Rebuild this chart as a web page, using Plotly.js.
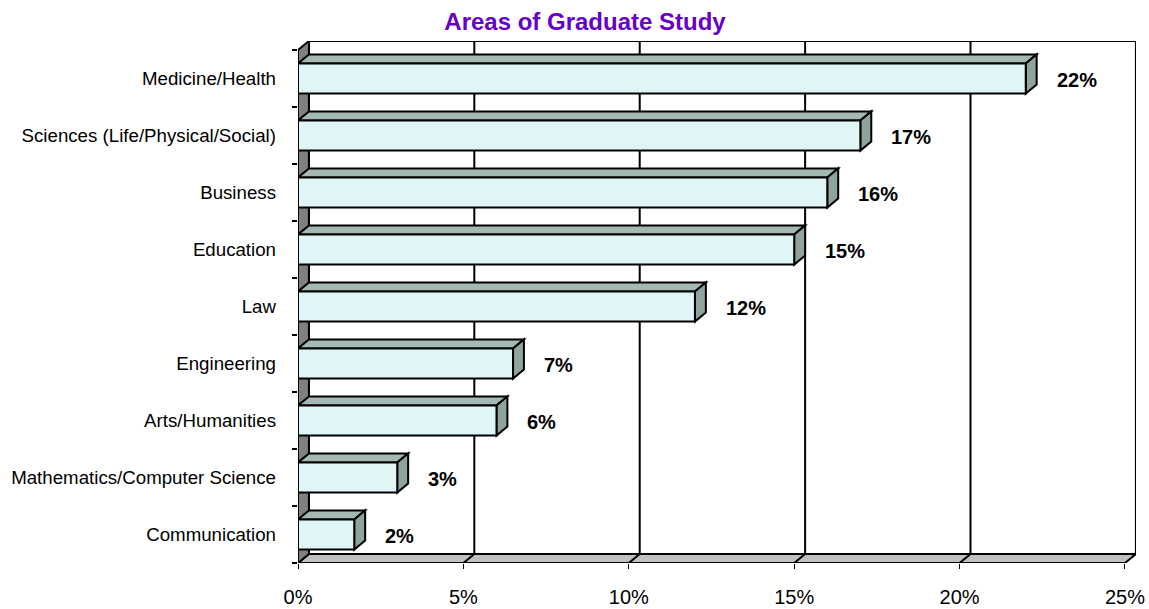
<!DOCTYPE html>
<html>
<head>
<meta charset="utf-8">
<script src="https://cdn.plot.ly/plotly-3.0.1.min.js"></script>
<style>html,body{margin:0;padding:0;background:#fff;}#chart{width:1149px;height:609px;}</style>
</head>
<body>
<div id="chart"></div>
<script>
// ---- data ----
const categories = ["Medicine/Health", "Sciences (Life/Physical/Social)", "Business", "Education", "Law",
  "Engineering", "Arts/Humanities", "Mathematics/Computer Science", "Communication"];
const values = [22, 17, 16, 15, 12, 6.5, 6, 3, 1.7];
const valueLabels = ["22%", "17%", "16%", "15%", "12%", "7%", "6%", "3%", "2%"];
const xTickVals = [0, 5, 10, 15, 20, 25];
const xTickText = ["0%", "5%", "10%", "15%", "20%", "25%"];

// ---- geometry / style ----
const DX = 0.33;     // depth offset in x units
const DY = 0.158;    // depth offset in category units
const BW = 0.53;     // bar width (category units)
const XMAX = 25;
const order = categories.slice().reverse();       // bottom-to-top
const idx = c => order.indexOf(c);
const N = categories.length;
const yBot = -0.5, yTop = N - 0.5;
const FONT = 'Liberation Sans, Arial, sans-serif';

const shapes = [];
function poly(pts, fill, lw) {
  const d = 'M' + pts.map(p => p[0] + ',' + p[1]).join('L') + 'Z';
  shapes.push({type: 'path', path: d, xref: 'x', yref: 'y', fillcolor: fill,
    line: {color: '#000', width: lw === undefined ? 2 : lw}, layer: 'below'});
}
function seg(x0, y0, x1, y1) {
  shapes.push({type: 'line', xref: 'x', yref: 'y', x0, y0, x1, y1,
    line: {color: '#000', width: 2}, layer: 'below'});
}
// back wall
poly([[DX, yBot + DY], [XMAX + DX, yBot + DY], [XMAX + DX, yTop + DY], [DX, yTop + DY]], '#ffffff');
// floor
poly([[0, yBot], [XMAX, yBot], [XMAX + DX, yBot + DY], [DX, yBot + DY]], '#c0c0c0');
// left wall
poly([[0, yBot], [DX, yBot + DY], [DX, yTop + DY], [0, yTop]], '#808080');
// gridlines on back wall and floor
xTickVals.slice(1, -1).forEach(v => {
  seg(v + DX, yBot + DY, v + DX, yTop + DY);
  seg(v, yBot, v + DX, yBot + DY);
});
// bar depth faces
categories.forEach((c, i) => {
  const y = idx(c), v = values[i];
  const t = y + BW / 2, b = y - BW / 2;
  poly([[0, t], [v, t], [v + DX, t + DY], [DX, t + DY]], '#a4b8b4');
  poly([[v, b], [v, t], [v + DX, t + DY], [v + DX, b + DY]], '#8fa39f');
});

const annotations = categories.map((c, i) => ({
  x: values[i], y: c, xref: 'x', yref: 'y', text: valueLabels[i], showarrow: false,
  xanchor: 'left', xshift: 29, yshift: -1,
  font: {family: FONT, size: 20, color: '#000', weight: 'bold'}
}));

const trace = {
  type: 'bar', orientation: 'h', y: categories, x: values, width: BW,
  marker: {color: '#e0f6f6', line: {color: '#000', width: 2}},
  hoverinfo: 'none'
};

const layout = {
  width: 1149, height: 609,
  margin: {l: 298, r: 13, t: 41, b: 46},
  paper_bgcolor: '#fff', plot_bgcolor: 'rgba(0,0,0,0)',
  showlegend: false,
  font: {family: FONT, color: '#000'},
  title: {text: '<b>Areas of Graduate Study</b>', x: 585 / 1149, xanchor: 'center', y: 1 - 22 / 609, yanchor: 'middle',
    font: {size: 24, color: '#6600cc', family: FONT}},
  xaxis: {range: [0, XMAX + (11 / 33.04)], tickvals: xTickVals, ticktext: xTickText,
    showgrid: false, zeroline: false, showline: false, ticks: 'outside', ticklen: 5, tickwidth: 1,
    tickcolor: '#000', ticklabelstandoff: 11, tickfont: {size: 20}},
  yaxis: {type: 'category', categoryorder: 'array', categoryarray: order,
    range: [yBot, yTop + DY], showgrid: false, zeroline: false, showline: false,
    ticks: 'outside', tickson: 'boundaries', ticklen: 5, tickwidth: 2, tickcolor: '#000',
    ticklabelstandoff: 21, tickfont: {size: 18.7}},
  shapes, annotations
};

Plotly.newPlot('chart', [trace], layout, {staticPlot: true});
</script>
</body>
</html>
